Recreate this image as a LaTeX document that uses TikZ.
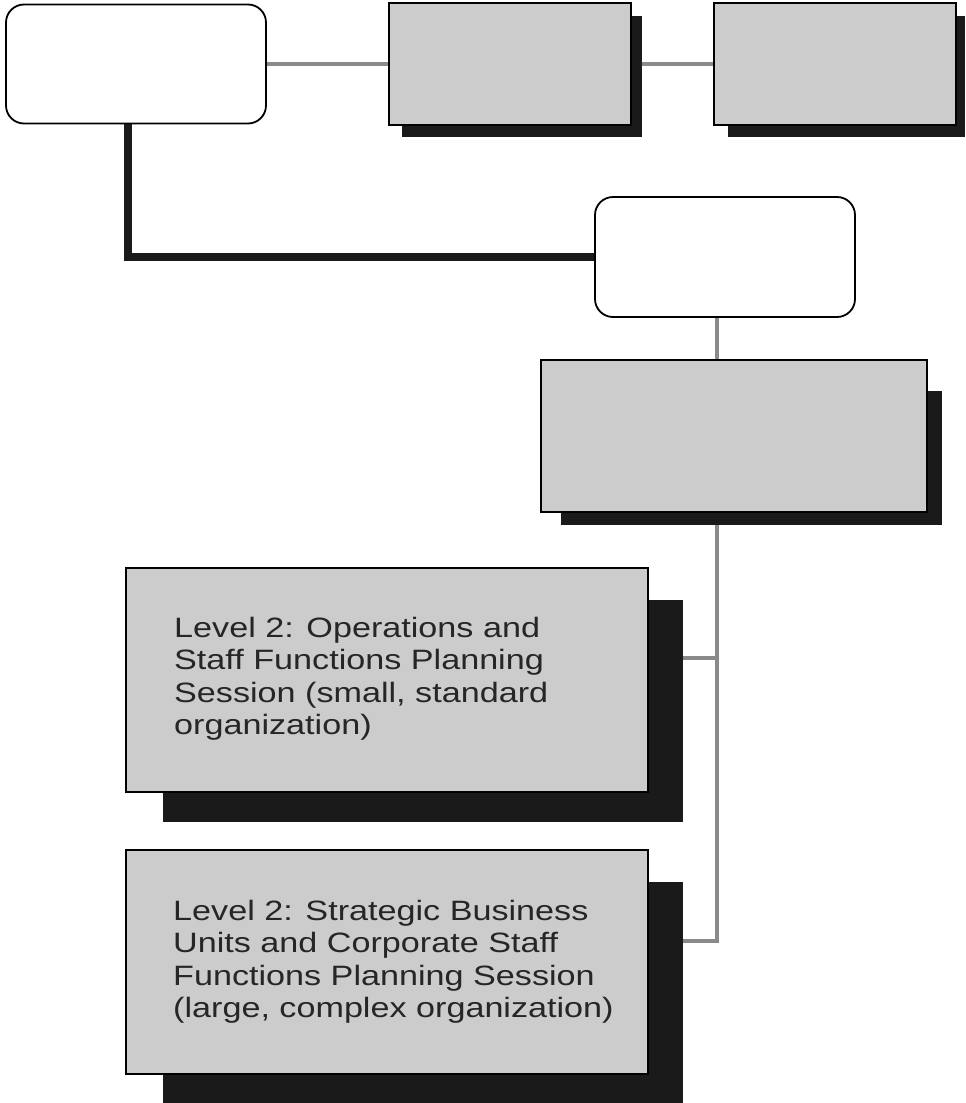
\documentclass[tikz,border=0pt]{standalone}
\usepackage{fontspec}
\setmainfont[FakeStretch=1.22]{Liberation Sans}
\usetikzlibrary{backgrounds}
\definecolor{boxgray}{HTML}{CCCCCC}
\definecolor{shadowc}{HTML}{1A1A1A}
\definecolor{linegray}{HTML}{8A8A8A}
\definecolor{textc}{HTML}{262626}
\begin{document}
\begin{tikzpicture}[x=1pt,y=-1pt,
  rbox/.style={draw=black, line width=1.8pt, fill=white, rounded corners=18pt, inner sep=0pt},
  gbox/.style={draw=black, line width=1.8pt, fill=boxgray, inner sep=0pt},
  shbox/.style={fill=shadowc, draw=none, inner sep=0pt},
  grayconn/.style={draw=linegray, line width=4.5pt},
  blackconn/.style={draw=shadowc, line width=7.5pt},
  lvtext/.style={text=textc, align=left, inner sep=0pt, font=\fontsize{28}{32.4}\selectfont}]
\useasboundingbox (0,0) rectangle (966,1103);

% boxes
\node[rbox, minimum width=260pt, minimum height=119pt] (r1) at (136,64) {};
\node[rbox, minimum width=260pt, minimum height=120pt] (r2) at (725,257) {};
\node[gbox, minimum width=242pt, minimum height=122pt] (g1) at (510,64) {};
\node[gbox, minimum width=242pt, minimum height=122pt] (g2) at (835,64) {};
\node[gbox, minimum width=386pt, minimum height=152pt] (g3) at (734,436) {};
\node[gbox, minimum width=522pt, minimum height=224pt] (lvA) at (387,680) {};
\node[gbox, minimum width=522pt, minimum height=224pt] (lvB) at (387,962) {};

% texts
\node[lvtext, anchor=north west] (tA) at (174,617) {Level 2: Operations and\\Staff Functions Planning\\Session (small, standard\\organization)};
\node[lvtext, anchor=north west] (tB) at (173,900) {Level 2: Strategic Business\\Units and Corporate Staff\\Functions Planning Session\\(large, complex organization)};

% bus and branch points
\coordinate (bus) at (717,0);
\coordinate (jA) at (683,658);
\coordinate (jB) at (683,941);

\begin{scope}[on background layer]
\fill[white] (0,0) rectangle (966,1103);
% connectors
\draw[grayconn] (r1.east) -- (g1.west);
\draw[grayconn] (g1.east) -- (g2.west);
\draw[grayconn] (r2.south -| bus) -- (g3.north -| bus);
\draw[grayconn] (g3.south -| bus) |- (jB);
\draw[grayconn] (jA) -- (jA -| bus);
\draw[blackconn] ([xshift=-8pt]r1.south) |- (r2.west);
% shadows
\node[shbox, minimum width=240pt, minimum height=121pt] (s1) at (522,76.5) {};
\node[shbox, minimum width=237pt, minimum height=121pt] (s2) at (846.5,76.5) {};
\node[shbox, minimum width=381pt, minimum height=134pt] (s3) at (751.5,458) {};
\node[shbox, minimum width=520pt, minimum height=222pt] (sA) at (423,711) {};
\node[shbox, minimum width=520pt, minimum height=221pt] (sB) at (423,992.5) {};
\end{scope}
\end{tikzpicture}
\end{document}
